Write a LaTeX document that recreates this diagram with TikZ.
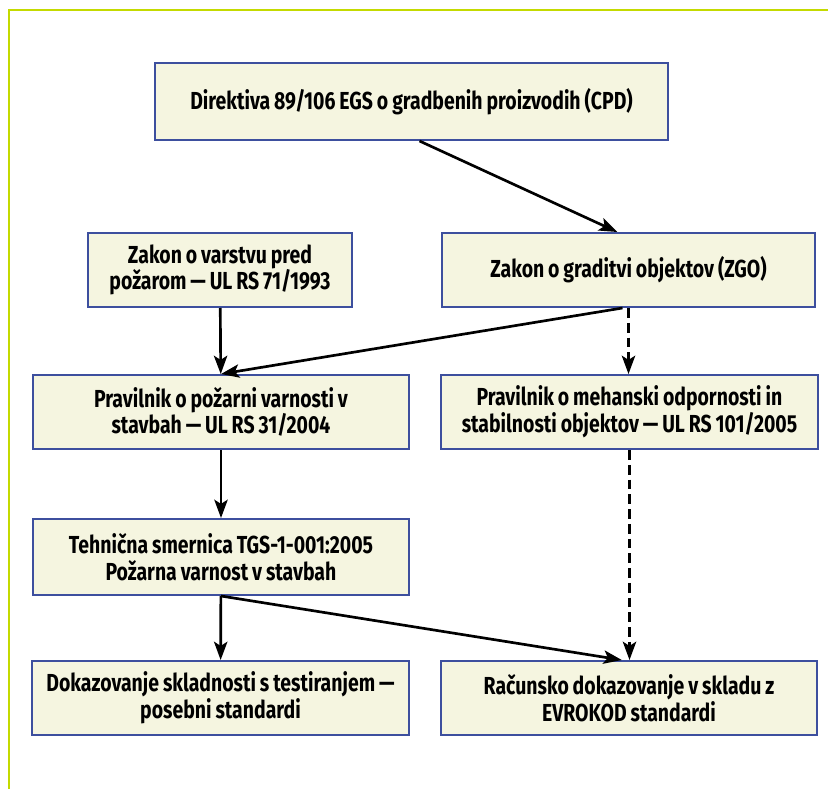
\documentclass[tikz,border=0pt]{standalone}
\usepackage{fontspec}
\setmainfont{Fira Sans}[FakeStretch=0.79, WordSpace=0.85]
\usetikzlibrary{arrows.meta}
\definecolor{framegreen}{HTML}{C4DA00}
\definecolor{boxblue}{HTML}{3D4F9E}
\definecolor{boxfill}{HTML}{F5F5E0}
\tikzset{
  box/.style={draw=boxblue, line width=1.4pt, fill=boxfill, minimum height=1.85cm,
    minimum width=9.4cm, align=center,
    font=\fontsize{17.5}{19}\selectfont\bfseries},
  arr/.style={line width=1.9pt, -{Stealth[length=13pt,width=9.5pt,inset=3pt]}},
}
\begin{document}
\begin{tikzpicture}[x=0.025cm, y=-0.025cm]
  \useasboundingbox (0,0) rectangle (828,789);
  \draw[framegreen, line width=2pt] (9,789) -- (9,10) -- (828,10);
  \node[box, minimum width=12.825cm, minimum height=1.925cm] (dir) at (411.5,101.5) {Direktiva 89/106 EGS o gradbenih proizvodih (CPD)};
  \node[box, minimum width=6.6cm] (zvp) at (220,270) {Zakon o varstvu pred\\požarom — UL RS 71/1993};
  \node[box, minimum width=9.3cm] (zgo) at (628.5,270) {Zakon o graditvi objektov (ZGO)};
  \node[box] (ppv) at (221,412) {Pravilnik o požarni varnosti v\\stavbah — UL RS 31/2004};
  \node[box] (pmo) at (629.5,412) {Pravilnik o mehanski odpornosti in\\stabilnosti objektov — UL RS 101/2005};
  \node[box, minimum height=1.9cm] (tgs) at (221,557) {Tehnična smernica TGS-1-001:2005\\Požarna varnost v stavbah};
  \node[box] (dst) at (220.5,698) {Dokazovanje skladnosti s testiranjem —\\posebni standardi};
  \node[box] (rde) at (629,698) {Računsko dokazovanje v skladu z\\EVROKOD standardi};
  \draw[arr] ([xshift=0.2cm]dir.south) -- ([xshift=-0.28cm]zgo.north);
  \draw[arr] (zvp) -- (ppv);
  \draw[arr] ([xshift=-0.15cm]zgo.south) -- (ppv.north);
  \draw[arr, dash pattern=on 7pt off 3.5pt] (zgo.south) -- (zgo.south |- pmo.north);
  \draw[arr] (ppv) -- (tgs);
  \draw[arr, dash pattern=on 7pt off 3.5pt] (pmo.south) -- (pmo.south |- rde.north);
  \draw[arr] (tgs) -- (dst);
  \draw[arr] (tgs.south) -- ([xshift=-0.18cm]rde.north);
\end{tikzpicture}
\end{document}
